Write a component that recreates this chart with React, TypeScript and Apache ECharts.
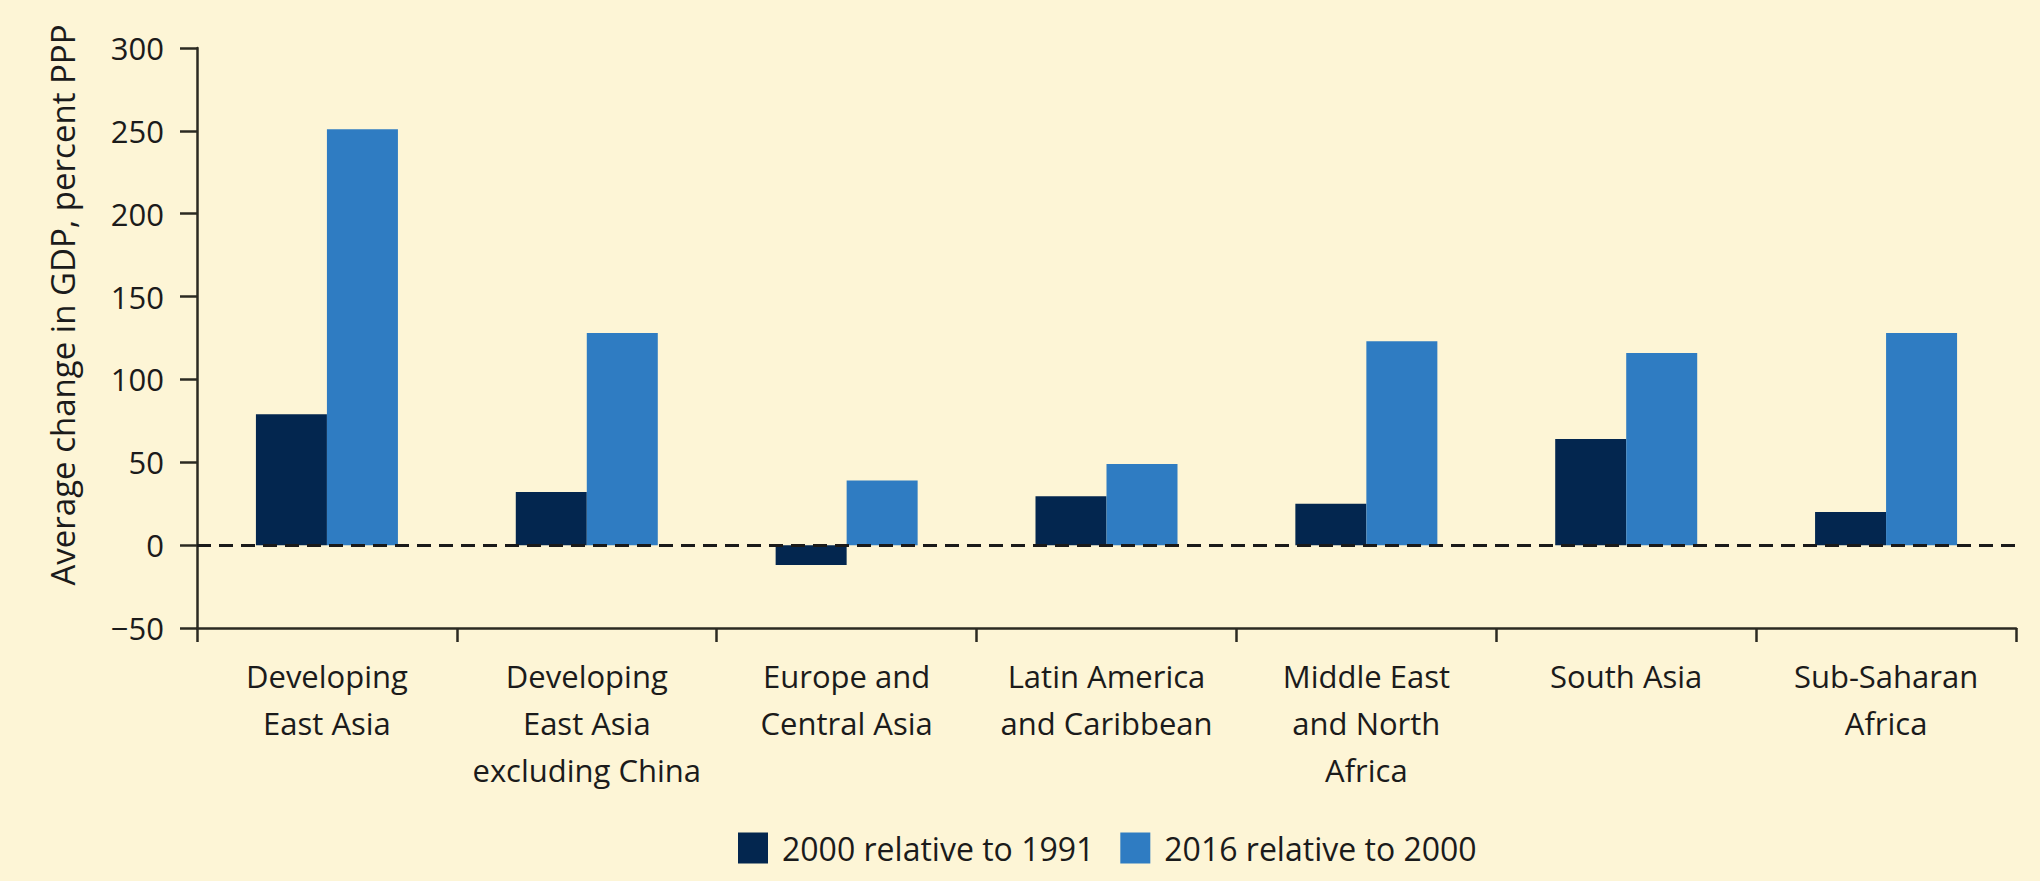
import React, { useEffect, useRef } from "react";
import * as echarts from "echarts";

// Regions on the category axis (line breaks as printed under each group)
const regions: string[] = [
  "Developing\nEast Asia",
  "Developing\nEast Asia\nexcluding China",
  "Europe and\nCentral Asia",
  "Latin America\nand Caribbean",
  "Middle East\nand North\nAfrica",
  "South Asia",
  "Sub-Saharan\nAfrica",
];

const seriesNames: string[] = ["2000 relative to 1991", "2016 relative to 2000"];

// Average change in GDP (percent, PPP)
const change2000vs1991: number[] = [79, 32, -12, 29.5, 25, 64, 20];
const change2016vs2000: number[] = [251, 128, 39, 49, 123, 116, 128];

const yMin = -50;
const yMax = 300;
const yStep = 50;

const FONT = "'Open Sans', 'Noto Sans', sans-serif";
const TEXT = "#1b1b1b";
const AXIS = "#2b2a22";
const NAVY = "#03264f";
const BLUE = "#2f7cc2";
const BG = "#fdf5d6";

export default function App() {
  const ref = useRef<HTMLDivElement>(null);

  useEffect(() => {
    if (!ref.current) return;
    const chart = echarts.init(ref.current, undefined, { renderer: "svg" });
    chart.setOption({
      animation: false,
      backgroundColor: BG,
      textStyle: { fontFamily: FONT, color: TEXT },
      grid: { left: 197, right: 24, top: 48, bottom: 253, containLabel: false },
      legend: {
        left: 733,
        top: 827,
        itemWidth: 30,
        itemHeight: 31,
        itemGap: 26,
        icon: "rect",
        textStyle: { fontFamily: FONT, fontSize: 32, color: TEXT, padding: [0, 0, 0, 9] },
        data: seriesNames,
      },
      xAxis: {
        type: "category",
        data: regions,
        boundaryGap: true,
        axisLine: { onZero: false, lineStyle: { color: AXIS, width: 2.5 } },
        axisTick: { show: true, alignWithLabel: false, length: 14, lineStyle: { color: AXIS, width: 2.5 } },
        axisLabel: {
          interval: 0,
          margin: 24,
          fontFamily: FONT,
          fontSize: 31,
          lineHeight: 47,
          color: TEXT,
          align: "center",
        },
        splitLine: { show: false },
      },
      yAxis: {
        type: "value",
        min: yMin,
        max: yMax,
        interval: yStep,
        name: "Average change in GDP, percent PPP",
        nameLocation: "middle",
        nameGap: 118,
        nameRotate: 90,
        nameTextStyle: { fontFamily: FONT, fontSize: 33, color: TEXT, padding: [0, 0, 0, 66] },
        axisLine: { show: true, lineStyle: { color: AXIS, width: 2.5 } },
        axisTick: { show: true, length: 17, lineStyle: { color: AXIS, width: 2.5 } },
        axisLabel: {
          margin: 33,
          fontFamily: FONT,
          fontSize: 31,
          color: TEXT,
          formatter: (v: number) => (v < 0 ? "\u2212" + Math.abs(v) : String(v)),
        },
        splitLine: { show: false },
      },
      series: [
        {
          name: seriesNames[0],
          type: "bar",
          data: change2000vs1991,
          barWidth: 71,
          barGap: "0%",
          itemStyle: { color: NAVY },
        },
        {
          name: seriesNames[1],
          type: "bar",
          data: change2016vs2000,
          barWidth: 71,
          barGap: "0%",
          itemStyle: { color: BLUE },
          markLine: {
            silent: true,
            symbol: "none",
            label: { show: false },
            lineStyle: { color: "#1a1a1a", width: 3, type: [14, 8] },
            data: [{ yAxis: 0 }],
          },
        },
      ],
    });
    return () => chart.dispose();
  }, []);

  return (
    <div
      ref={ref}
      style={{ position: "absolute", left: 0, top: 0, width: 2040, height: 881 }}
    />
  );
}
